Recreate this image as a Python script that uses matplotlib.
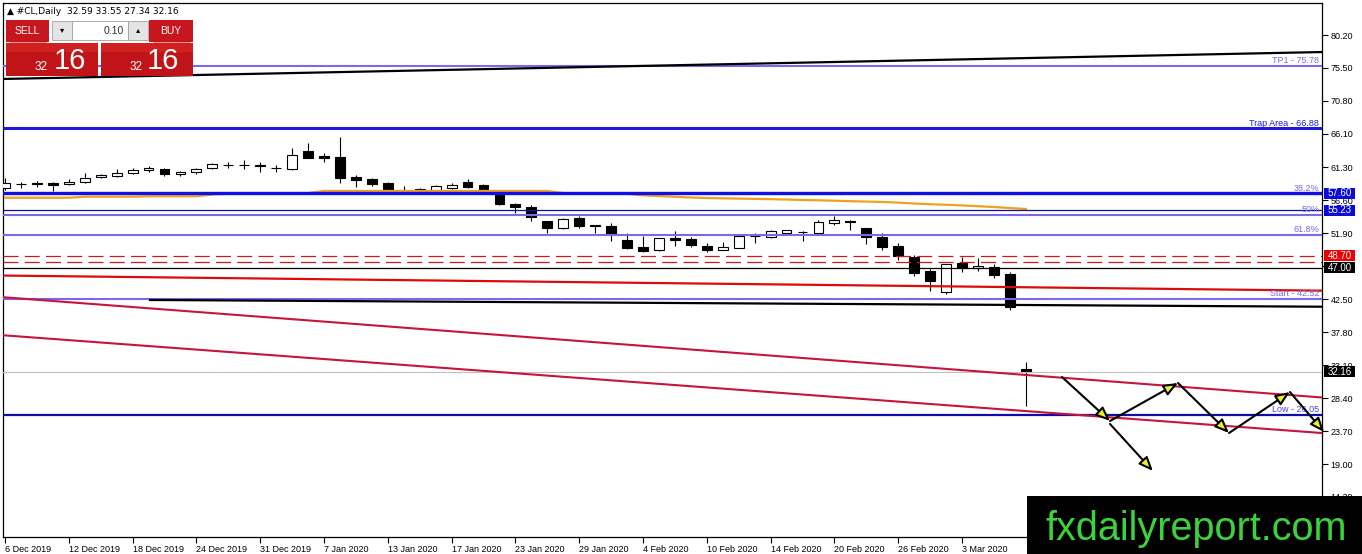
import matplotlib
matplotlib.use('Agg')
import matplotlib.pyplot as plt
from matplotlib.patches import Rectangle, FancyArrowPatch

plt.rcParams['font.family'] = ['Liberation Sans', 'DejaVu Sans']

# ---------------- data ----------------
opens = [58.37, 58.94, 59.09, 59.09, 58.94, 59.23, 59.94, 60.09, 60.51, 60.94,
         61.08, 60.37, 60.66, 61.23, 61.66, 61.66, 61.66, 61.23, 61.08, 63.65,
         62.94, 62.80, 59.94, 59.66, 59.09, 58.09, 58.23, 58.09, 58.37, 59.23,
         58.80, 57.60, 56.09, 55.67, 53.67, 52.67, 54.10, 53.10, 52.95, 50.96,
         49.96, 49.53, 51.24, 51.10, 50.10, 49.53, 49.81, 51.53, 51.38, 51.95,
         52.10, 51.95, 53.38, 53.67, 52.67, 51.38, 50.10, 48.53, 46.53, 43.54,
         47.67, 46.96, 47.10, 46.10, 32.59]
highs = [59.80, 59.23, 59.37, 59.23, 59.66, 60.51, 60.37, 61.08, 61.23, 61.51,
         61.23, 60.80, 61.23, 61.94, 62.08, 62.37, 62.08, 61.66, 64.08, 64.79,
         63.37, 65.65, 60.23, 59.80, 59.23, 58.66, 58.37, 58.80, 59.09, 59.66,
         58.94, 58.10, 56.23, 55.95, 53.70, 54.10, 54.38, 53.12, 53.38, 51.95,
         51.53, 51.30, 52.24, 51.38, 50.53, 50.67, 51.60, 51.95, 52.38, 52.45,
         52.24, 53.81, 54.38, 53.81, 52.70, 51.95, 50.53, 48.81, 46.82, 47.55,
         48.53, 48.39, 47.53, 46.39, 33.55]
lows = [58.09, 58.37, 58.52, 57.95, 58.80, 59.09, 59.80, 59.94, 60.37, 60.66,
        60.09, 60.09, 60.37, 61.08, 61.23, 61.08, 60.66, 60.66, 60.94, 62.60,
        62.08, 59.09, 58.52, 58.66, 57.95, 57.80, 57.80, 57.80, 58.23, 58.37,
        57.95, 56.00, 54.81, 53.67, 51.95, 52.53, 52.67, 51.95, 50.81, 49.67,
        49.24, 49.39, 50.10, 49.96, 49.24, 49.50, 49.75, 50.53, 51.24, 51.90,
        50.81, 51.81, 53.10, 52.38, 50.39, 49.53, 48.10, 45.82, 43.68, 43.25,
        46.39, 46.53, 45.53, 40.97, 27.34]
closes = [59.09, 58.97, 58.99, 58.80, 59.23, 59.80, 60.23, 60.51, 60.94, 61.23,
          60.37, 60.66, 61.08, 61.80, 61.68, 61.70, 61.51, 61.25, 63.08, 62.65,
          62.65, 59.80, 59.51, 58.94, 58.09, 58.11, 57.95, 58.66, 58.80, 58.52,
          58.23, 56.09, 55.67, 54.24, 52.67, 53.95, 52.95, 52.95, 51.81, 49.81,
          49.39, 51.24, 50.96, 50.24, 49.53, 49.96, 51.53, 51.55, 52.24, 52.38,
          52.12, 53.52, 53.81, 53.52, 51.38, 49.96, 48.67, 46.25, 45.10, 47.53,
          46.96, 47.24, 45.96, 41.40, 32.16]
ma_values = [56.99, 56.99, 56.99, 56.99, 56.99, 57.13, 57.13, 57.13, 57.13, 57.19,
             57.19, 57.19, 57.19, 57.45, 57.56, 57.58, 57.60, 57.62, 57.64, 57.66,
             57.95, 57.95, 57.95, 57.95, 57.95, 57.95, 57.95, 57.95, 57.95, 57.95,
             57.95, 57.95, 57.95, 57.95, 57.95, 57.66, 57.62, 57.60, 57.58, 57.55,
             57.33, 57.23, 57.12, 57.02, 56.95, 56.90, 56.86, 56.82, 56.78, 56.73,
             56.66, 56.62, 56.56, 56.49, 56.44, 56.38, 56.29, 56.16, 56.06, 55.98,
             55.89, 55.78, 55.66, 55.52, 55.38]

tick_bars = [0, 4, 8, 12, 16, 20, 24, 28, 32, 36, 40, 44, 48, 52, 56, 60]
tick_labels = ['6 Dec 2019', '12 Dec 2019', '18 Dec 2019', '24 Dec 2019', '31 Dec 2019',
               '7 Jan 2020', '13 Jan 2020', '17 Jan 2020', '23 Jan 2020', '29 Jan 2020',
               '4 Feb 2020', '10 Feb 2020', '14 Feb 2020', '20 Feb 2020', '26 Feb 2020',
               '3 Mar 2020']
y_ticks = [80.20, 75.50, 70.80, 66.10, 61.30, 56.60, 51.90, 47.20, 42.50, 37.80,
           33.10, 28.40, 23.70, 19.00, 14.30]
# 47.20 sits fully behind the 47.00 price box in the reference, so its label is blank
y_tick_labels = ['80.20', '75.50', '70.80', '66.10', '61.30', '56.60', '51.90', '',
                 '42.50', '37.80', '33.10', '28.40', '23.70', '19.00', '14.30']

# horizontal levels
h_prices = [75.78, 66.88, 57.58, 57.60, 55.23, 54.55, 51.70, 48.70, 47.80, 47.00, 42.52, 32.16, 26.05]
h_colors = ['#7b68ee', '#1a1ad8', '#7b68ee', '#1010e0', '#101090', '#7b68ee', '#7b68ee',
            '#d01818', '#d01818', '#000000', '#7b68ee', '#c0c0c0', '#0d0da8']
h_widths = [1.5, 2.2, 1.5, 2.4, 0.9, 1.5, 1.5, 0.9, 0.9, 0.9, 1.5, 0.8, 1.6]
h_styles = ['-', '-', '-', '-', '-', '-', '-', (0, (12, 5)), (0, (12, 5)), '-', '-', '-', '-']

# level labels
lbl_text = ['TP1 - 75.78', 'Trap Area - 66.88', '38.2%', '50%', '61.8%', 'Start - 42.52', 'Low - 26.05']
lbl_price = [75.78, 66.88, 57.58, 54.55, 51.70, 42.52, 26.05]
lbl_color = ['#7b68ee', '#1a1ad8', '#7b68ee', '#7b68ee', '#7b68ee', '#7b68ee', '#4a42e0']

# price boxes on the right axis
box_text = ['57.60', '55.23', '48.70', '47.00', '32.16']
box_price = [57.60, 55.23, 48.70, 47.00, 32.16]
box_color = ['#0a0adc', '#0a0adc', '#ee0000', '#000000', '#000000']

# trend lines: (bar0, price0, bar1, price1)
tl_x0 = [-0.31, -0.31, 9.09, -0.31, -0.31]
tl_p0 = [73.92, 45.89, 42.40, 42.83, 37.40]
tl_x1 = [82.57, 82.57, 82.57, 82.57, 82.57]
tl_p1 = [77.77, 43.73, 41.44, 28.49, 23.42]
tl_col = ['#000000', '#dd0a0a', '#000000', '#c8143c', '#c8143c']
tl_w = [1.6, 1.6, 1.6, 1.5, 1.5]

# projected zig-zag path (bar, price)
zig_x = [66.27, 69.28, 73.54, 76.74, 80.56, 82.70]
zig_p = [31.41, 25.14, 30.56, 23.42, 29.27, 23.57]
branch_x = [69.28, 71.97]
branch_p = [24.71, 18.00]

# ---------------- figure ----------------
W, H = 1362, 554
fig = plt.figure(figsize=(W / 100, H / 100), dpi=100)
fig.patch.set_facecolor('white')
ax = fig.add_axes([3 / W, (H - 537) / H, (1322 - 3) / W, 534 / H])
ax.set_xlim(-0.125, 82.57)
ax.set_ylim(8.589, 84.765)
for s in ax.spines.values():
    s.set_color('black')
    s.set_linewidth(0.9)

n = len(opens)
xs = list(range(n))
# candles
ax.vlines(xs, lows, highs, color='black', lw=0.8, zorder=2)
bottoms = [min(o, c) for o, c in zip(opens, closes)]
heights = [max(abs(c - o), 0.02) for o, c in zip(opens, closes)]
fills = ['white' if c >= o else 'black' for o, c in zip(opens, closes)]
ax.bar(xs, heights, bottom=bottoms, width=0.62, color=fills, edgecolor='black',
       linewidth=0.8, zorder=3)

# moving average
ax.plot(xs, ma_values, color='#f0a020', lw=1.6, zorder=4)

# horizontal lines
for p, c, w, st in zip(h_prices, h_colors, h_widths, h_styles):
    ax.axhline(p, color=c, lw=w, ls=st, zorder=5)

# trend lines
for x0, p0, x1, p1, c, w in zip(tl_x0, tl_p0, tl_x1, tl_p1, tl_col, tl_w):
    ax.plot([x0, x1], [p0, p1], color=c, lw=w, zorder=5, clip_on=True)

# labels on lines
ytr = ax.get_yaxis_transform()
for t, p, c in zip(lbl_text, lbl_price, lbl_color):
    ax.annotate(t, xy=(0.998, p), xycoords=ytr, xytext=(0, 0.6), textcoords='offset points',
                ha='right', va='bottom', fontsize=6.5, color=c, zorder=6)

# arrows
def arrow(xa, pa, xb, pb):
    a = FancyArrowPatch((xa, pa), (xb, pb), arrowstyle='-|>,head_length=0.85,head_width=0.35',
                        mutation_scale=10, shrinkA=0, shrinkB=0, lw=1.5,
                        edgecolor='black', facecolor='#f0f020', zorder=7, clip_on=False)
    ax.add_patch(a)

for i in range(len(zig_x) - 1):
    arrow(zig_x[i], zig_p[i], zig_x[i + 1], zig_p[i + 1])
arrow(branch_x[0], branch_p[0], branch_x[1], branch_p[1])

# axes ticks
ax.yaxis.tick_right()
ax.set_yticks(y_ticks)
ax.set_yticklabels(y_tick_labels)
ax.tick_params(axis='y', length=4, width=0.8, pad=2, labelsize=6.5, colors='black')
ax.set_xticks(tick_bars)
ax.set_xticklabels(tick_labels)
ax.tick_params(axis='x', length=4, width=0.8, pad=1.5, labelsize=6.5)
for lab in ax.get_xticklabels():
    lab.set_horizontalalignment('left')

# price boxes on the right axis (fixed size, 31 px wide, 11 px tall)
ppx = (84.765 - 8.589) / 534.0
bw = 31.0 / 1319.0
bh = 11.0 * ppx
for t, p, c in zip(box_text, box_price, box_color):
    ax.add_patch(Rectangle((1.0015, p - bh / 2), bw, bh, transform=ytr, facecolor=c,
                           edgecolor=c, lw=0, zorder=8, clip_on=False))
    ax.text(1.0015 + bw / 2, p, t, transform=ytr, ha='center', va='center', fontsize=7,
            color='white', zorder=9, clip_on=False)

# ---------------- overlay (panel, header, watermark) ----------------
ov = fig.add_axes([0, 0, 1, 1], zorder=10)
ov.set_xlim(0, W)
ov.set_ylim(H, 0)
ov.axis('off')
ov.patch.set_alpha(0)

ov.text(7, 11, '\u25b2 #CL,Daily  32.59 33.55 27.34 32.16', fontsize=6.5, va='center',
        ha='left', color='black', family=['DejaVu Sans'])

red = '#c8161e'
def rect(x0, y0, x1, y1, fc, ec=None, lw=0.0):
    ov.add_patch(Rectangle((x0, y0), x1 - x0, y1 - y0, facecolor=fc,
                           edgecolor=ec if ec else fc, lw=lw))

rect(6, 20, 49, 42, red)
rect(52, 21, 72, 40, '#e4e4e4', '#a0a0a0', 0.6)
rect(72, 21, 128, 40, 'white', '#a0a0a0', 0.6)
rect(128, 21, 148, 40, '#e4e4e4', '#a0a0a0', 0.6)
rect(149, 20, 193, 42, red)
ov.plot([10, 46], [41.5, 41.5], color='#f08080', lw=0.6)
ov.plot([153, 190], [41.5, 41.5], color='#f08080', lw=0.6)
ov.text(27.5, 30.5, 'SELL', color='white', fontsize=7.5, ha='center', va='center')
ov.text(171, 30.5, 'BUY', color='white', fontsize=7.5, ha='center', va='center')
ov.text(62, 30, '\u25be', color='black', fontsize=6, ha='center', va='center', family=['DejaVu Sans'])
ov.text(138, 30, '\u25b4', color='black', fontsize=6, ha='center', va='center', family=['DejaVu Sans'])
ov.text(124, 30.5, '0.10', color='#303030', fontsize=7.5, ha='right', va='center')
rect(6, 43, 98, 76, '#c01418')
rect(101, 43, 193, 76, '#c01418')
rect(6, 43, 98, 52, '#d02020')
rect(101, 43, 193, 52, '#d02020')
ov.text(48, 70, '32', color='white', fontsize=8.5, ha='right', va='baseline')
ov.text(54, 69, '16', color='white', fontsize=21, ha='left', va='baseline')
ov.text(143, 70, '32', color='white', fontsize=8.5, ha='right', va='baseline')
ov.text(147, 69, '16', color='white', fontsize=21, ha='left', va='baseline')

rect(1027, 496, 1362, 554, 'black')
ov.text(1196, 540, 'fxdailyreport.com', color='#3cd23c', fontsize=28.5,
        ha='center', va='baseline')

fig.savefig('out.png', dpi=100)
